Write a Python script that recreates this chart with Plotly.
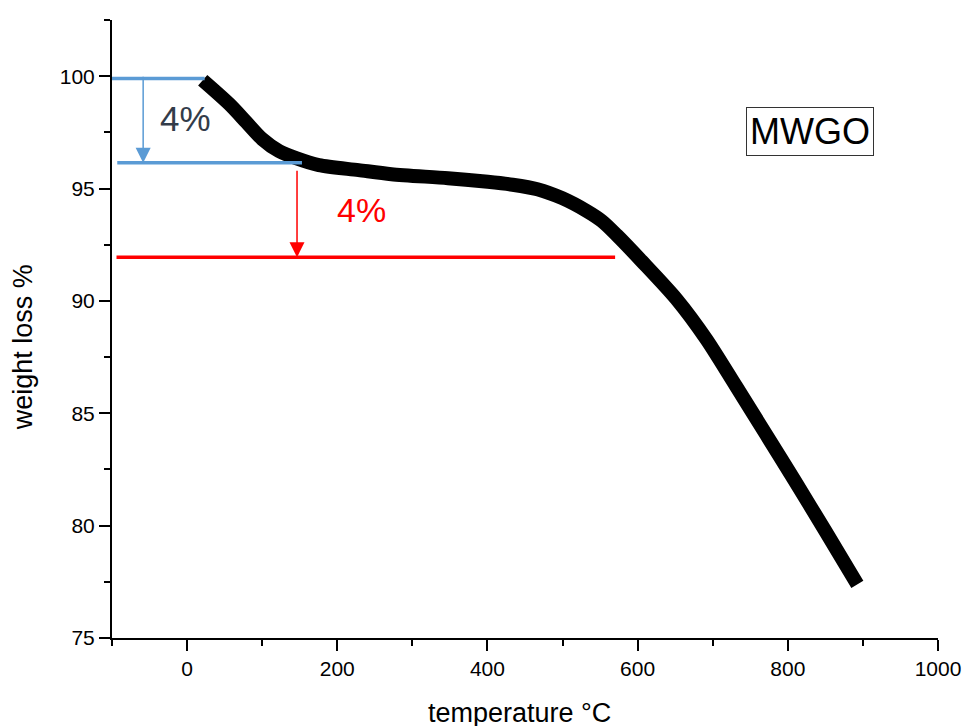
import plotly.graph_objects as go

# TGA curve of MWGO: temperature (°C) vs remaining weight (%)
temperature = [20.8, 56.5, 79.0, 100.1, 122.6, 145.1, 175.5, 228.4, 272.1, 347.5,
               400.4, 433.5, 466.5, 499.6, 532.7, 552.5, 572.4, 605.4, 651.7, 691.4,
               731.1, 770.8, 810.5, 850.2, 892.6]
weight = [99.82, 98.75, 97.95, 97.20, 96.66, 96.35, 96.04, 95.82, 95.64, 95.46,
          95.30, 95.17, 94.97, 94.57, 93.99, 93.55, 92.92, 91.77, 90.08, 88.30,
          86.20, 84.07, 81.93, 79.75, 77.39]

# reference levels for the two marked loss steps
level_start = 99.9
level_step1 = 96.15
level_step2 = 91.94
step_labels = ["4%", "4%"]
sample_name = "MWGO"

x_range = [-100, 1000]
y_range = [75, 102.5]
x_ticks = [0, 200, 400, 600, 800, 1000]
y_ticks = [75, 80, 85, 90, 95, 100]

BLUE = "#5B9BD5"
RED = "#FF0000"
FONT = "Liberation Sans, Arial, sans-serif"

fig = go.Figure()

fig.add_trace(go.Scatter(
    x=temperature, y=weight, mode="lines",
    line=dict(color="black", width=14, shape="spline", smoothing=0.8),
    hoverinfo="skip", showlegend=False,
))

# horizontal guide lines
fig.add_trace(go.Scatter(x=[-100, 23.4], y=[level_start, level_start], mode="lines",
                         line=dict(color=BLUE, width=3.5), showlegend=False))
fig.add_trace(go.Scatter(x=[-93, 153], y=[level_step1, level_step1], mode="lines",
                         line=dict(color=BLUE, width=3.5), showlegend=False))
fig.add_trace(go.Scatter(x=[-94, 570], y=[level_step2, level_step2], mode="lines",
                         line=dict(color=RED, width=3.5), showlegend=False))

annotations = [
    # blue step arrow
    dict(x=-58.5, y=level_step1, ax=-58.5, ay=100.04, xref="x", yref="y",
         axref="x", ayref="y", text="", showarrow=True, arrowhead=2,
         arrowsize=2, arrowwidth=1.5, arrowcolor=BLUE),
    # red step arrow
    dict(x=146.4, y=level_step2, ax=146.4, ay=95.86, xref="x", yref="y",
         axref="x", ayref="y", text="", showarrow=True, arrowhead=2,
         arrowsize=2, arrowwidth=1.5, arrowcolor=RED),
    dict(x=-2, y=98.1, xref="x", yref="y", text=step_labels[0], showarrow=False,
         font=dict(family=FONT, size=35, color="#333C4A"),
         xanchor="center", yanchor="middle"),
    dict(x=232, y=94.04, xref="x", yref="y", text=step_labels[1], showarrow=False,
         font=dict(family=FONT, size=34, color=RED),
         xanchor="center", yanchor="middle"),
    dict(x=829, y=97.55, xref="x", yref="y", text=sample_name, showarrow=False,
         font=dict(family=FONT, size=36, color="black"),
         xanchor="center", yanchor="middle",
         bordercolor="#333333", borderwidth=1, borderpad=3, bgcolor="white"),
    # axis titles
    dict(x=-0.108, y=0.47, xref="paper", yref="paper", text="weight loss %",
         textangle=-90, showarrow=False, font=dict(family=FONT, size=27, color="black"),
         xanchor="center", yanchor="middle"),
    dict(x=0.493, y=-0.122, xref="paper", yref="paper", text="temperature °C",
         showarrow=False, font=dict(family=FONT, size=27, color="black"),
         xanchor="center", yanchor="middle"),
]

axis_common = dict(
    showline=True, linecolor="black", linewidth=2, mirror=False,
    ticks="outside", ticklen=11, tickwidth=2, tickcolor="black",
    showgrid=False, zeroline=False,
    tickfont=dict(family=FONT, size=21, color="black"),
)

fig.update_xaxes(range=x_range, tickvals=x_ticks, **axis_common,
                 minor=dict(dtick=100, tick0=-100, ticks="outside", ticklen=6,
                            tickwidth=2, tickcolor="black", showgrid=False))
fig.update_yaxes(range=y_range, tickvals=y_ticks, **axis_common,
                 minor=dict(dtick=2.5, tick0=75, ticks="outside", ticklen=6,
                            tickwidth=2, tickcolor="black", showgrid=False))

fig.update_layout(
    width=973, height=726,
    margin=dict(l=112, r=29, t=20, b=88),
    paper_bgcolor="white", plot_bgcolor="white",
    annotations=annotations,
    showlegend=False,
)

fig.write_html("out.html")
